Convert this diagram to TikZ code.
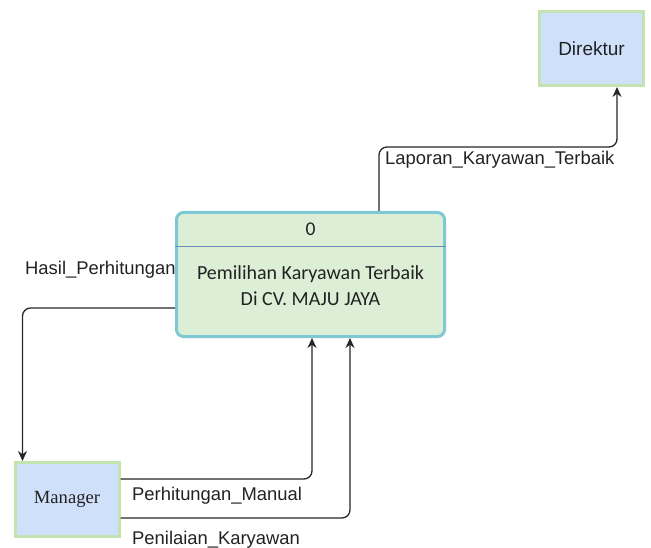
\documentclass[tikz,border=0pt]{standalone}
\usepackage{fontspec}
\setmainfont{Liberation Sans}
\newfontfamily\calfont{Carlito}
\newfontfamily\timesfont{Liberation Serif}
\usetikzlibrary{arrows.meta}
\definecolor{entfill}{HTML}{CFE0FA}
\definecolor{entline}{HTML}{C3E3B0}
\definecolor{procfill}{HTML}{DCEFD6}
\definecolor{procline}{HTML}{7DC8D2}
\definecolor{divline}{HTML}{6C8EBF}
\definecolor{txt}{HTML}{222222}
\tikzset{
  entity/.style={draw=entline, fill=entfill, line width=3pt, minimum width=104pt, minimum height=74pt, inner sep=0pt, text=txt},
  procbox/.style={draw=procline, fill=procfill, line width=3pt, rounded corners=7pt, minimum width=268pt, minimum height=124pt, inner sep=0pt},
  flow/.style={draw=black!85, line width=1.3pt, rounded corners=8pt, -{Stealth[length=10pt,width=9pt]}},
  flowlabel/.style={anchor=west, inner sep=0pt, text=txt, font=\fontsize{18.4}{21}\selectfont}
}
\begin{document}
\begin{tikzpicture}[x=1pt,y=-1pt]
\useasboundingbox (0,0) rectangle (651,548);
\node[entity, font=\fontsize{19}{21}\selectfont] (dir) at (591.5,48.5) {Direktur};
\node[entity, font=\timesfont\fontsize{18.6}{21}\selectfont] (mgr) at (67,499.5) {Manager};
\node[procbox] (proc) at (310.5,274.5) {};
\draw[divline, line width=0.8pt] ([yshift=-35pt]proc.north west) coordinate (dl) -- (dl -| proc.north east);
\node[font=\calfont\fontsize{19.5}{22}\selectfont, text=txt] (num) at (310.5,229) {0};
\node[font=\calfont\fontsize{20}{26}\selectfont, text=txt, align=center] (ptext) at (310.5,285.5) {Pemilihan Karyawan Terbaik\\Di CV. MAJU JAYA};
% connectors
\draw[flow] ([xshift=204pt]proc.north west) -- ++(0,-64) -| ([xshift=79pt]dir.south west);
\draw[flow] ([yshift=-97pt]proc.north west) -| ([xshift=9pt]mgr.north west);
\draw[flow] ([yshift=-18pt]mgr.north east) -| ([xshift=137pt]proc.south west);
\draw[flow] ([yshift=-57pt]mgr.north east) -| ([xshift=175pt]proc.south west);
% labels
\node[flowlabel] (l1) at (385,160) {Laporan\_Karyawan\_Terbaik};
\node[flowlabel] (l2) at (25,270) {Hasil\_Perhitungan};
\node[flowlabel] (l3) at (132,496) {Perhitungan\_Manual};
\node[flowlabel] (l4) at (132,540) {Penilaian\_Karyawan};
\end{tikzpicture}
\end{document}
